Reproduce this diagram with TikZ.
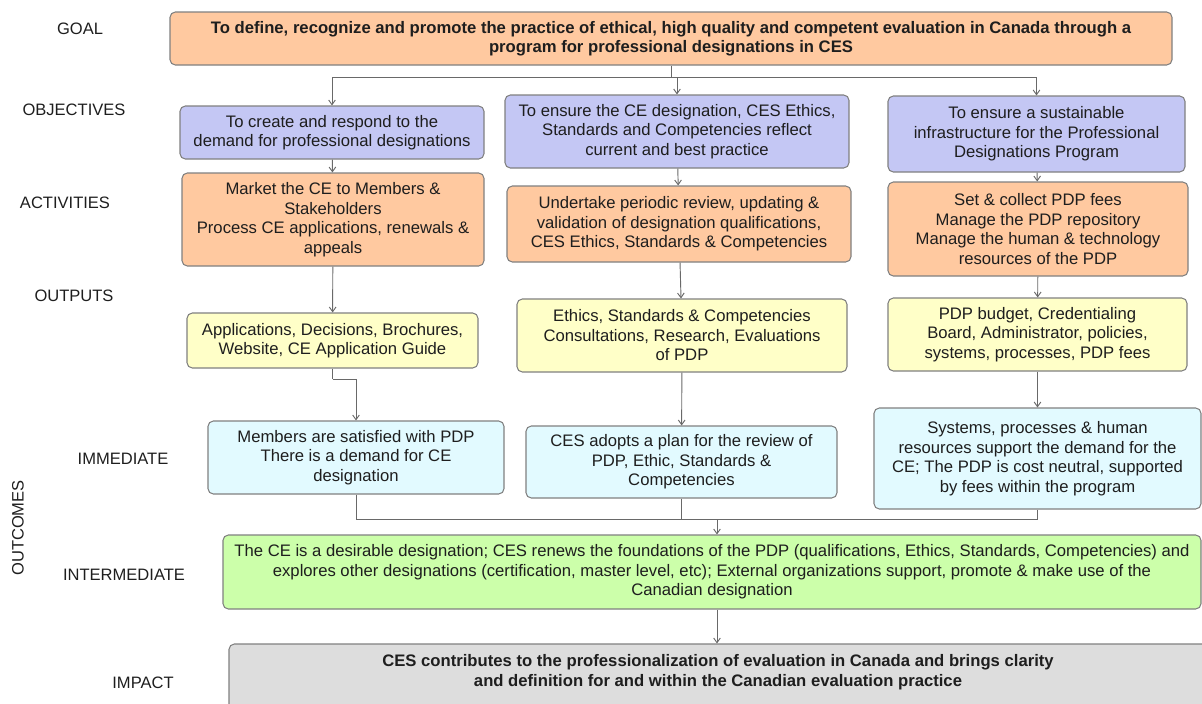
\documentclass[tikz,border=0pt]{standalone}
\usepackage{fontspec}
\setmainfont{Liberation Sans}
\usetikzlibrary{arrows.meta, calc}

\definecolor{peach}{RGB}{255,201,160}
\definecolor{lavender}{RGB}{196,199,244}
\definecolor{paleyellow}{RGB}{255,255,200}
\definecolor{palecyan}{RGB}{226,250,255}
\definecolor{palegreen}{RGB}{204,255,170}
\definecolor{palegrey}{RGB}{221,221,221}
\definecolor{edgegrey}{RGB}{128,128,128}
\definecolor{linkgrey}{RGB}{105,105,105}
\definecolor{inkgrey}{RGB}{30,30,30}

\begin{document}
\begin{tikzpicture}[x=0.75pt, y=-0.75pt,
    box/.style={draw=edgegrey, line width=0.8pt, rounded corners=4pt, align=center,
        inner sep=0pt, text=inkgrey, font=\fontsize{12.5}{14.6}\selectfont},
    boldbox/.style={box, font=\fontsize{12.5}{14.6}\selectfont\bfseries},
    sz/.style 2 args={minimum width=#1*0.75pt, minimum height=#2*0.75pt},
    rowlabel/.style={text=inkgrey, font=\fontsize{12.4}{14.6}\selectfont},
    link/.style={draw=linkgrey, line width=0.7pt},
    arr/.style={link, -{Straight Barb[length=3.5pt, width=5pt]}}]
    \useasboundingbox (0,0) rectangle (1202,703);

    % row labels
    \node[rowlabel] (lgoal) at (80,29) {GOAL};
    \node[rowlabel] (lobj) at (74,110) {OBJECTIVES};
    \node[rowlabel] (lact) at (65,203) {ACTIVITIES};
    \node[rowlabel] (lout) at (74,296) {OUTPUTS};
    \node[rowlabel] (limm) at (123,459) {IMMEDIATE};
    \node[rowlabel] (lint) at (124,575) {INTERMEDIATE};
    \node[rowlabel] (limp) at (143,683) {IMPACT};
    \node[rowlabel, rotate=90] (loutc) at (18,528) {OUTCOMES};

    % goal
    \node[boldbox, fill=peach, sz={1002}{53}] (goal) at (671,38.5)
        {To define, recognize and promote the practice of ethical, high quality and competent evaluation in Canada through a\\
         program for professional designations in CES};

    % objectives
    \node[box, fill=lavender, sz={304}{53}] (obj1) at (332,132.5)
        {To create and respond to the\\demand for professional designations};
    \node[box, fill=lavender, sz={344}{73}] (obj2) at (677,131.5)
        {To ensure the CE designation, CES Ethics,\\Standards and Competencies reflect\\current and best practice};
    \node[box, fill=lavender, sz={297}{76}] (obj3) at (1036.5,134)
        {To ensure a sustainable\\infrastructure for the Professional\\Designations Program};

    % activities
    \node[box, fill=peach, sz={302}{93}] (act1) at (333,219.5)
        {Market the CE to Members \&\\Stakeholders\\Process CE applications, renewals \&\\appeals};
    \node[box, fill=peach, sz={344}{76}] (act2) at (679,224)
        {Undertake periodic review, updating \&\\validation of designation qualifications,\\CES Ethics, Standards \& Competencies};
    \node[box, fill=peach, sz={300}{94}] (act3) at (1038,229)
        {Set \& collect PDP fees\\Manage the PDP repository\\Manage the human \& technology\\resources of the PDP};

    % outputs
    \node[box, fill=paleyellow, sz={291}{55}] (out1) at (332.5,340.5)
        {Applications, Decisions, Brochures,\\Website, CE Application Guide};
    \node[box, fill=paleyellow, sz={330}{73}] (out2) at (682,335.5)
        {Ethics, Standards \& Competencies\\Consultations, Research, Evaluations\\of PDP};
    \node[box, fill=paleyellow, sz={299}{73}] (out3) at (1037.5,334.5)
        {PDP budget, Credentialing\\Board, Administrator, policies,\\systems, processes, PDP fees};

    % immediate outcomes
    \node[box, fill=palecyan, sz={296}{73}] (imm1) at (356,457.5)
        {Members are satisfied with PDP\\There is a demand for CE\\designation};
    \node[box, fill=palecyan, sz={311}{72}] (imm2) at (681.5,462)
        {CES adopts a plan for the review of\\PDP, Ethic, Standards \&\\Competencies};
    \node[box, fill=palecyan, sz={327}{101}] (imm3) at (1037.5,458.5)
        {Systems, processes \& human\\resources support the demand for the\\CE; The PDP is cost neutral, supported\\by fees within the program};

    % intermediate outcome
    \node[box, fill=palegreen, sz={978}{74}] (inter) at (712,572)
        {The CE is a desirable designation; CES renews the foundations of the PDP (qualifications, Ethics, Standards, Competencies) and\\
         explores other designations (certification, master level, etc); External organizations support, promote \& make use of the\\
         Canadian designation};

    % impact (runs off the page)
    \node[box, fill=palegrey, sz={990}{80}] (impact) at (724,684) {};
    \node[boldbox, draw=none] (impacttext) at (718,672)
        {CES contributes to the professionalization of evaluation in Canada and brings clarity\\
         and definition for and within the Canadian evaluation practice};

    % connectors
    \coordinate (gsplit) at (671,77);
    \coordinate (bend1) at (332.5,379);
    \coordinate (merge) at (717,519);

    \draw[link] (goal) -- (gsplit);
    \draw[arr] (gsplit) -| (obj1);
    \draw[arr] (gsplit) -| (obj2);
    \draw[arr] (gsplit) -| (obj3);

    \draw[arr] (obj1) -- (act1);
    \draw[arr] (act1) -- (out1);
    \draw[link] (out1) -- (bend1);
    \draw[arr] (bend1) -| (imm1);

    \draw[arr] (obj2) -- (act2);
    \draw[arr] (act2) -- (out2);
    \draw[arr] (out2) -- (imm2);

    \draw[arr] (obj3) -- (act3);
    \draw[arr] (act3) -- (out3);
    \draw[arr] (out3) -- (imm3);

    \draw[link] (imm1) |- (merge);
    \draw[link] (imm2) |- (merge);
    \draw[link] (imm3) |- (merge);
    \draw[arr] (merge) -- (merge |- inter.north);
    \draw[arr] (inter.south -| merge) -- (impact.north -| merge);
\end{tikzpicture}
\end{document}
